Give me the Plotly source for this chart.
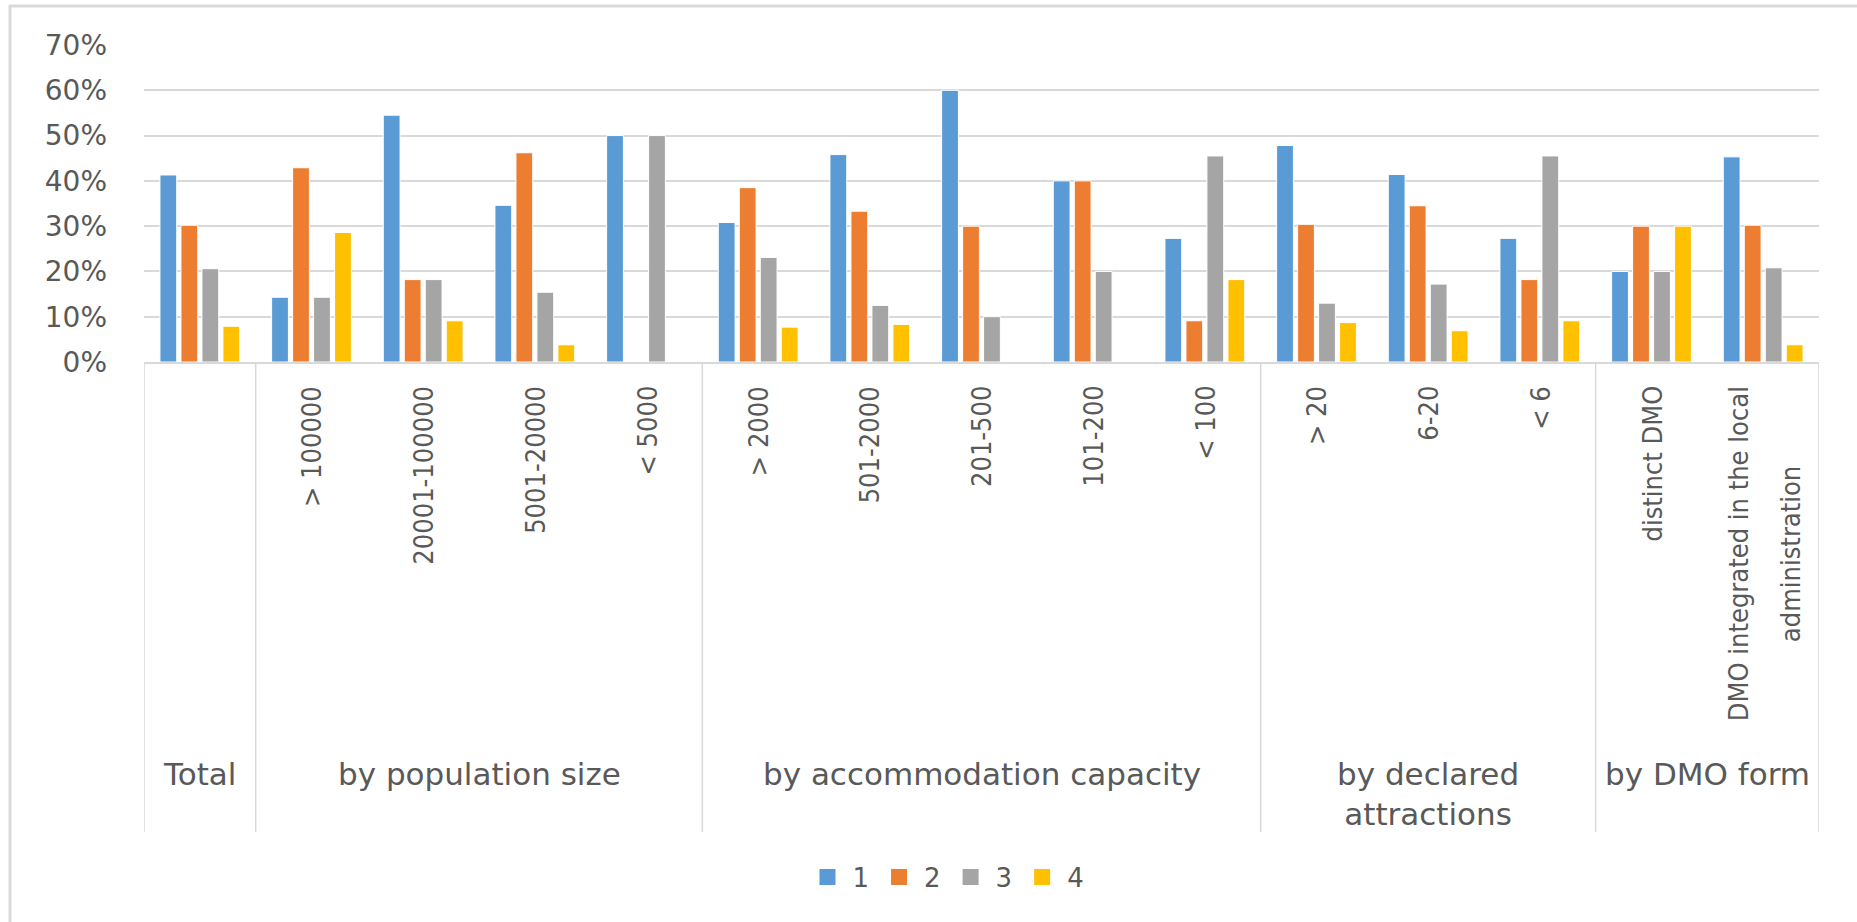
import plotly.graph_objects as go

# Sub-categories along the x axis (one per group of bars)
categories = [
    "Total",
    "> 100000", "20001-100000", "5001-20000", "< 5000",
    "> 2000", "501-2000", "201-500", "101-200", "< 100",
    "> 20", "6-20", "< 6",
    "distinct DMO", "DMO integrated in the local administration",
]
# Label text drawn under each sub-category (HTML-escaped, with line breaks)
tick_labels = [
    "",
    "&gt; 100000", "20001-100000", "5001-20000", "&lt; 5000",
    "&gt; 2000", "501-2000", "201-500", "101-200", "&lt; 100",
    "&gt; 20", "6-20", "&lt; 6",
    "distinct DMO", "DMO integrated in the local<br>administration",
]
# Outer grouping of the sub-categories
group_labels = ["Total", "by population size", "by accommodation capacity",
                "by declared<br>attractions", "by DMO form"]
group_sizes = [1, 4, 5, 3, 2]

series_names = ["1", "2", "3", "4"]
series_colors = ["#5B9BD5", "#ED7D31", "#A5A5A5", "#FFC000"]
s1 = [0.413, 0.143, 0.545, 0.346, 0.500, 0.308, 0.458, 0.600, 0.400, 0.273, 0.478, 0.414, 0.273, 0.200, 0.453]
s2 = [0.302, 0.429, 0.182, 0.462, 0.000, 0.385, 0.333, 0.300, 0.400, 0.091, 0.304, 0.345, 0.182, 0.300, 0.302]
s3 = [0.206, 0.143, 0.182, 0.154, 0.500, 0.231, 0.125, 0.100, 0.200, 0.455, 0.130, 0.172, 0.455, 0.200, 0.208]
s4 = [0.079, 0.286, 0.091, 0.038, 0.000, 0.077, 0.083, 0.000, 0.000, 0.182, 0.087, 0.069, 0.091, 0.300, 0.038]
series_values = [s1, s2, s3, s4]

TEXT = "#595959"
LINE = "#d9d9d9"
W, H = 1857, 922
ML, MR, MT, MB = 144, 38, 45, 560
plot_w = W - ML - MR
plot_h = H - MT - MB

LABEL_TOP = 384        # top edge of the rotated sub-category labels (px)
LABEL_MID = 554        # centre line used for wrapped rotated labels (px)
LABEL_LINE_GAP = 52    # spacing between wrapped lines of a rotated label (px)
LABEL_FONT = dict(family="DejaVu Sans Condensed, DejaVu Sans, sans-serif",
                  size=27, color=TEXT)


def px_to_paper_x(px):
    return (px - ML) / plot_w


def px_to_paper_y(py):
    return (H - MB - py) / plot_h


fig = go.Figure()
for name, color, vals in zip(series_names, series_colors, series_values):
    fig.add_trace(go.Bar(
        x=categories, y=vals, name=name, legendgroup=name, showlegend=False,
        marker=dict(color=color, line=dict(color="white", width=1)),
    ))
# Legend keys: square swatches tied to each bar series
for name, color in zip(series_names, series_colors):
    fig.add_trace(go.Scatter(
        x=[None], y=[None], name=name, legendgroup=name, mode="markers",
        marker=dict(symbol="square", size=16, color=color),
        showlegend=True,
    ))

shapes = []
annotations = []

# Rotated sub-category labels; wrapped labels get wider line spacing
for cat, lab in zip(categories, tick_labels):
    if not lab:
        continue
    lines = lab.split("<br>")
    if len(lines) == 1:
        annotations.append(dict(
            x=cat, xref="x", y=px_to_paper_y(LABEL_TOP), yref="paper",
            text=lab, textangle=-90, showarrow=False,
            xanchor="center", yanchor="top", font=LABEL_FONT,
        ))
    else:
        n = len(lines)
        for i, line in enumerate(lines):
            annotations.append(dict(
                x=cat, xref="x", y=px_to_paper_y(LABEL_MID), yref="paper",
                xshift=(i - (n - 1) / 2) * LABEL_LINE_GAP + 1,
                text=line, textangle=-90, showarrow=False,
                xanchor="center", yanchor="middle", font=LABEL_FONT,
            ))

# Group separators and group labels
bottom_y = px_to_paper_y(832)
start = 0
bounds = [-0.5]
for lab, n in zip(group_labels, group_sizes):
    end = start + n
    bounds.append(end - 0.5)
    center = start + (n - 1) / 2
    annotations.append(dict(
        x=center, xref="x", y=px_to_paper_y(754), yref="paper",
        text=lab, showarrow=False, xanchor="center", yanchor="top",
        align="center",
        font=dict(family="DejaVu Sans", size=31, color=TEXT),
    ))
    start = end
for b in bounds:
    shapes.append(dict(type="line", xref="x", yref="paper",
                       x0=b, x1=b, y0=0, y1=bottom_y,
                       line=dict(color=LINE, width=1.5)))

# Chart frame
shapes.append(dict(type="rect", xref="paper", yref="paper",
                   x0=px_to_paper_x(10), x1=px_to_paper_x(W + 60),
                   y0=px_to_paper_y(H + 60), y1=px_to_paper_y(6),
                   line=dict(color=LINE, width=3), fillcolor="rgba(0,0,0,0)",
                   layer="below"))

fig.update_layout(
    width=W, height=H, autosize=False,
    margin=dict(l=ML, r=MR, t=MT, b=MB, pad=0),
    paper_bgcolor="white", plot_bgcolor="white",
    barmode="group", bargap=0.248, bargroupgap=0.2,
    showlegend=True,
    legend=dict(orientation="h", x=px_to_paper_x(946), y=px_to_paper_y(877),
                xanchor="center", yanchor="middle", itemwidth=40,
                font=dict(family="DejaVu Sans", size=26, color=TEXT),
                bgcolor="rgba(0,0,0,0)"),
    xaxis=dict(type="category", range=[-0.5, 14.5], showticklabels=False,
               showgrid=False, showline=True, linecolor=LINE, linewidth=2,
               ticks="", zeroline=False),
    yaxis=dict(range=[0, 0.7], dtick=0.1, tickformat=".0%",
               showgrid=True, gridcolor=LINE, gridwidth=1.5,
               showline=False, zeroline=False, ticks="",
               ticklabelstandoff=36,
               tickfont=dict(family="DejaVu Sans", size=28, color=TEXT)),
    shapes=shapes,
    annotations=annotations,
)

fig.write_html("out.html")
